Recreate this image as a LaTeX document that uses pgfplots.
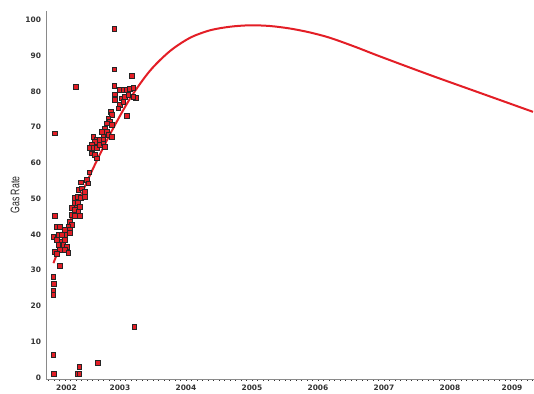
\documentclass[border=0pt]{standalone}
\usepackage{fontspec}
\usepackage{graphicx}
\setmainfont{Liberation Sans}
\newfontfamily\tickfont{DejaVu Sans}
\usepackage{pgfplots}
\pgfplotsset{compat=1.18}
\definecolor{gasred}{HTML}{E31E26}
\definecolor{axgray}{HTML}{8A8A8A}
\definecolor{lblgray}{HTML}{333333}
\begin{document}
\begin{tikzpicture}
\begin{axis}[
  scale only axis,
  width=488bp, height=368bp,
  xmin=2002.379, xmax=2009.773,
  ymin=-0.4, ymax=102.5,
  axis x line*=bottom, axis y line*=left,
  axis line style={axgray, line width=0.9bp},
  xtick={2002.689,2003.5,2004.5,2005.5,2006.5,2007.5,2008.5,2009.44},
  xticklabels={2002,2003,2004,2005,2006,2007,2008,2009},
  minor xtick={2002.4167,2002.5,...,2009.76},
  ytick={0,10,...,100},
  major tick length=0pt,
  minor tick length=2bp,
  tick align=outside,
  minor tick style={lblgray, line width=0.5bp},
  /pgf/number format/assume math mode=true,
  ticklabel style={font=\tickfont\bfseries\fontsize{7.5}{9}\selectfont, text=lblgray},
  yticklabel style={xshift=-1.5bp},
  xticklabel style={yshift=-2bp},
  ylabel={\scalebox{0.7}[1]{\fontsize{12.5}{14}\selectfont Gas Rate}},
  ylabel style={at={(axis description cs:-0.0635,0.5)}, anchor=center, text=black!85},
  clip=false,
]
\addplot[only marks, mark=square*, mark size=2.4bp,
  mark options={fill=gasred, draw=black!85, line width=0.7bp}] coordinates {
(2003.414,97.4) (2003.414,86.2) (2002.829,81.4) (2002.515,68.3) (2003.677,84.3)
(2003.602,73.2) (2003.742,78.3) (2002.515,45.3) (2002.489,28.2) (2002.500,26.2)
(2002.489,24.2) (2002.489,23.1) (2002.489,6.3) (2002.500,1.1) (2002.591,31.3)
(2002.853,1.0) (2002.883,1.0) (2002.883,3.1) (2003.162,4.2) (2003.717,14.2)
(2003.414,81.5) (2003.489,80.4) (2003.550,80.4) (2003.602,80.4) (2003.652,80.7)
(2003.702,81.1) (2003.424,79.2) (2003.702,78.6) (2003.424,77.6) (2003.526,78.1)
(2003.576,78.6) (2003.626,79.0) (2003.500,76.2) (2003.550,77.0) (2003.474,75.3)
(2003.359,74.4) (2003.374,73.4) (2003.323,72.5) (2003.348,71.6) (2003.374,70.6)
(2003.298,71.1) (2003.273,69.7) (2003.298,68.8) (2003.323,67.9) (2003.223,68.8)
(2003.247,67.4) (2003.374,67.4) (2003.095,67.4) (2003.147,66.5) (2003.197,66.5)
(2003.247,66.5) (2003.121,65.8) (2003.071,65.1) (2003.045,64.3) (2003.095,64.3)
(2003.147,64.3) (2003.197,65.1) (2003.247,65.5) (2003.273,64.6) (2003.071,62.7)
(2003.121,62.3) (2003.147,61.3) (2003.035,57.4)
(2002.909,54.6) (2002.995,55.3) (2003.020,54.3) (2002.868,52.5) (2002.920,52.9)
(2002.970,52.0) (2002.808,50.2) (2002.859,50.6) (2002.909,50.2) (2002.970,50.6)
(2002.808,48.8) (2002.859,48.8) (2002.894,47.8) (2002.768,47.4) (2002.818,46.9)
(2002.868,46.4) (2002.768,45.5) (2002.818,45.3) (2002.894,45.3) (2002.742,43.6)
(2002.768,42.7) (2002.717,42.2) (2002.541,42.2) (2002.591,42.2) (2002.667,41.3)
(2002.742,41.3) (2002.742,40.4) (2002.667,39.9) (2002.489,39.4) (2002.565,39.9)
(2002.617,39.9) (2002.541,38.5) (2002.617,38.0) (2002.667,38.5) (2002.565,37.1)
(2002.641,37.1) (2002.692,36.6) (2002.515,35.2) (2002.591,35.7) (2002.667,35.7)
(2002.717,34.8) (2002.541,34.5)
};
\addplot[gasred, line width=2bp, smooth, no marks] coordinates {
(2002.492,32.0) (2002.742,43.8) (2003.045,56.6) (2003.348,68.0) (2003.652,78.0)
(2003.955,85.8) (2004.258,91.3) (2004.561,95.0) (2004.864,97.1) (2005.167,98.1)
(2005.470,98.5) (2005.773,98.3) (2006.076,97.6) (2006.379,96.5) (2006.682,95.0)
(2007.061,92.5) (2007.439,89.8) (2008.197,84.6) (2008.955,79.6) (2009.758,74.3)
};
\end{axis}
\pgfresetboundingbox
\path[use as bounding box] ([xshift=-46bp,yshift=-15bp]current axis.south west) rectangle ([yshift=11bp]current axis.north east);
\end{tikzpicture}
\end{document}
